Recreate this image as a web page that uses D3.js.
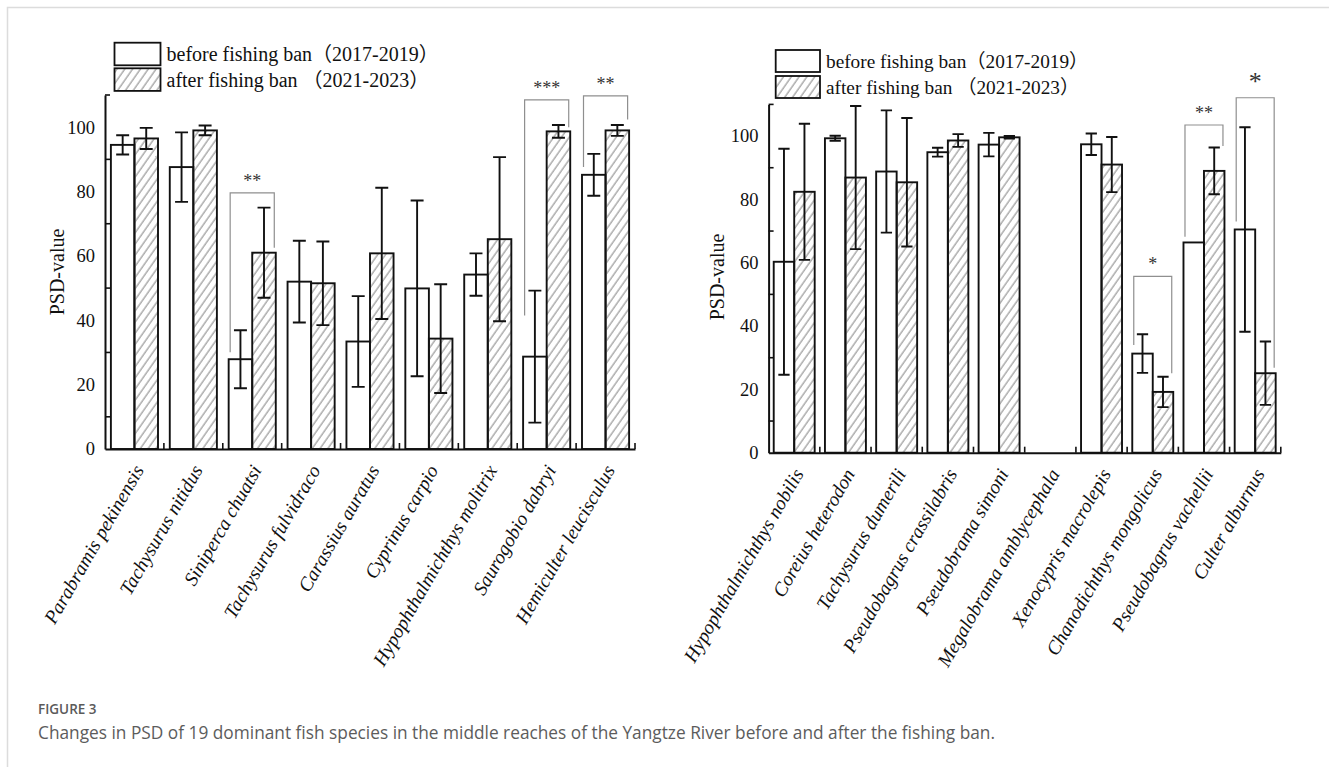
<!DOCTYPE html>
<html>
<head>
<meta charset="utf-8">
<script src="https://cdn.jsdelivr.net/npm/d3@7"></script>
<style>
  html, body { margin: 0; padding: 0; background: #fff; }
  svg { display: block; }
</style>
</head>
<body>
<svg id="fig" width="1329" height="767"></svg>
<script>
// ---- Panel A: species and PSD values (mean and error) ----
const leftSpecies = ["Parabramis pekinensis", "Tachysurus nitidus", "Siniperca chuatsi",
  "Tachysurus fulvidraco", "Carassius auratus", "Cyprinus carpio",
  "Hypophthalmichthys molitrix", "Saurogobio dabryi", "Hemiculter leucisculus"];
const leftBefore    = [94.5, 87.6, 27.9, 52.0, 33.4, 49.9, 54.2, 28.7, 85.2];
const leftBeforeErr = [3.0, 10.8, 9.0, 12.7, 14.1, 27.3, 6.6, 20.5, 6.5];
const leftAfter     = [96.5, 99.0, 61.0, 51.5, 60.8, 34.3, 65.2, 98.7, 99.0];
const leftAfterErr  = [3.3, 1.5, 14.0, 13.0, 20.4, 16.9, 25.5, 2.0, 1.7];
// significance brackets: species, mark, bracket top, left leg end, right leg end (PSD units)
const leftSig = [
  ["Siniperca chuatsi", "**", 79.6, 30.1, 62.5],
  ["Saurogobio dabryi", "***", 108.5, 41.5, 100.0],
  ["Hemiculter leucisculus", "**", 109.7, 87.6, 102.4]
];

// ---- Panel B ----
const rightSpecies = ["Hypophthalmichthys nobilis", "Coreius heterodon", "Tachysurus dumerili",
  "Pseudobagrus crassilabris", "Pseudobrama simoni", "Megalobrama amblycephala",
  "Xenocypris macrolepis", "Chanodichthys mongolicus", "Pseudobagrus vachellii", "Culter alburnus"];
const rightBefore    = [60.3, 99.3, 88.8, 94.9, 97.3, null, 97.4, 31.3, 66.4, 70.5];
const rightBeforeErr = [35.7, 0.8, 19.3, 1.4, 3.7, null, 3.4, 6.1, 0, 32.3];
const rightAfter     = [82.4, 86.9, 85.4, 98.6, 99.6, null, 91.0, 19.2, 89.0, 25.1];
const rightAfterErr  = [21.5, 22.6, 20.3, 2.0, 0.4, null, 8.7, 4.8, 7.4, 10.0];
const rightSig = [
  ["Chanodichthys mongolicus", "*", 55.7, 34.0, 25.1],
  ["Pseudobagrus vachellii", "**", 103.5, 68.2, 96.9],
  ["Culter alburnus", "*", 112.1, 73.0, 26.8]
];

const yTickLabels = [0, 20, 40, 60, 80, 100];
const yMinorTicks = [10, 30, 50, 70, 90, 110];
const legendLabels = ["before fishing ban（2017-2019）", "after fishing ban （2021-2023）"];

const SERIF = "'Liberation Serif', 'Times New Roman', 'Noto Sans CJK SC', serif";
const svg = d3.select("#fig");

// hatch pattern for the "after" series
const defs = svg.append("defs");
const pat = defs.append("pattern")
  .attr("id", "hatch")
  .attr("patternUnits", "userSpaceOnUse")
  .attr("width", 6.4).attr("height", 10)
  .attr("patternTransform", "rotate(35)");
pat.append("line")
  .attr("x1", 1).attr("y1", 0).attr("x2", 1).attr("y2", 10)
  .attr("stroke", "#6e6e6e").attr("stroke-width", 0.9);

// figure frame
svg.append("path")
  .attr("d", "M7.5,767 L7.5,7.5 L1329,7.5")
  .attr("fill", "none").attr("stroke", "#dcdcdc").attr("stroke-width", 1.5);

function drawPanel(cfg) {
  const { species, before, beforeErr, after, afterErr, sig, x0, x1, yBase, yTop, legend, ylab } = cfg;
  const g = svg.append("g");
  const x = d3.scaleBand().domain(species).range([x0, x1]).padding(0);
  const y = d3.scaleLinear().domain([0, 110]).range([yBase, yTop]);
  const bw = x.bandwidth() * 0.4;
  const cap = bw * 0.55;
  const cx = s => x(s) + x.bandwidth() / 2;

  const rows = species.map((s, i) => ({ s, b: before[i], be: beforeErr[i], a: after[i], ae: afterErr[i] }));

  // bars
  rows.filter(r => r.b != null).forEach(r => {
    g.append("rect").attr("x", cx(r.s) - bw).attr("y", y(r.b))
      .attr("width", bw).attr("height", y(0) - y(r.b))
      .attr("fill", "#fff").attr("stroke", "#111").attr("stroke-width", 1.9);
  });
  rows.filter(r => r.a != null).forEach(r => {
    g.append("rect").attr("x", cx(r.s)).attr("y", y(r.a))
      .attr("width", bw).attr("height", y(0) - y(r.a))
      .attr("fill", "url(#hatch)").attr("stroke", "#111").attr("stroke-width", 1.9);
  });

  // error bars
  function errBar(xc, v, e) {
    if (v == null || !e) return;
    const path = d3.path();
    path.moveTo(xc, y(v + e)); path.lineTo(xc, y(v - e));
    path.moveTo(xc - cap / 2, y(v + e)); path.lineTo(xc + cap / 2, y(v + e));
    path.moveTo(xc - cap / 2, y(v - e)); path.lineTo(xc + cap / 2, y(v - e));
    g.append("path").attr("d", path.toString()).attr("fill", "none")
      .attr("stroke", "#111").attr("stroke-width", 1.9);
  }
  rows.forEach(r => {
    errBar(cx(r.s) - bw / 2, r.b, r.be);
    errBar(cx(r.s) + bw / 2, r.a, r.ae);
  });

  // significance brackets
  sig.forEach(([s, mark, top, lEnd, rEnd]) => {
    const lx = cx(s) - bw + 1.5, rx = cx(s) + bw - 1.5;
    g.append("path")
      .attr("d", `M${lx},${y(lEnd)} L${lx},${y(top)} L${rx},${y(top)} L${rx},${y(rEnd)}`)
      .attr("fill", "none").attr("stroke", "#8f8f8f").attr("stroke-width", 1.2);
    const big = mark === "*" && top > 100;
    g.append("text")
      .attr("x", (lx + rx) / 2)
      .attr("y", y(top) - (big ? 8 : 6))
      .attr("text-anchor", "middle")
      .attr("font-family", SERIF)
      .attr("font-size", big ? 26 : 18)
      .attr("fill", "#333")
      .text(mark);
  });

  // y axis
  const yAxis = d3.axisLeft(y).tickValues(yTickLabels).tickSize(0).tickPadding(10);
  const ya = g.append("g").attr("transform", `translate(${x0},0)`).call(yAxis);
  ya.select(".domain").attr("stroke", "#111").attr("stroke-width", 2);
  ya.selectAll("text").attr("font-family", SERIF).attr("font-size", 18.5).attr("fill", "#111");
  yMinorTicks.forEach(v => {
    g.append("line").attr("x1", x0).attr("x2", x0 + 5).attr("y1", y(v)).attr("y2", y(v))
      .attr("stroke", "#111").attr("stroke-width", 1.6);
  });

  // x axis with rotated italic species names
  const xAxis = d3.axisBottom(x).tickSize(0).tickPadding(0);
  const xa = g.append("g").attr("transform", `translate(0,${yBase})`).call(xAxis);
  xa.select(".domain").attr("stroke", "#111").attr("stroke-width", 2);
  xa.selectAll("text")
    .attr("font-family", SERIF).attr("font-style", "italic").attr("font-size", 19.5).attr("fill", "#111")
    .attr("text-anchor", "end")
    .attr("x", 0).attr("y", 0).attr("dy", null)
    .attr("transform", "translate(10,21) rotate(-60)");
  species.forEach(s => {
    const bx = x(s) + x.bandwidth();
    g.append("line").attr("x1", bx).attr("x2", bx).attr("y1", yBase).attr("y2", yBase - 6)
      .attr("stroke", "#111").attr("stroke-width", 1.6);
  });

  // y label
  g.append("text")
    .attr("transform", `translate(${ylab[0]},${ylab[1]}) rotate(-90)`)
    .attr("text-anchor", "middle").attr("dominant-baseline", "central")
    .attr("font-family", SERIF).attr("font-size", 20).attr("fill", "#111")
    .text("PSD-value");

  // legend
  const [lx, ly, lw, lh, gap, fs] = legend;
  legendLabels.forEach((t, i) => {
    g.append("rect").attr("x", lx).attr("y", ly + i * gap).attr("width", lw).attr("height", lh)
      .attr("fill", i ? "url(#hatch)" : "#fff").attr("stroke", "#111").attr("stroke-width", 1.8);
    g.append("text").attr("x", lx + lw + 6).attr("y", ly + i * gap + lh / 2)
      .attr("dominant-baseline", "central")
      .attr("font-family", SERIF).attr("font-size", fs).attr("fill", "#111")
      .text(t);
  });
}

drawPanel({
  species: leftSpecies, before: leftBefore, beforeErr: leftBeforeErr,
  after: leftAfter, afterErr: leftAfterErr, sig: leftSig,
  x0: 105, x1: 635, yBase: 449, yTop: 95,
  legend: [114.5, 42.7, 46, 22.6, 25.6, 20],
  ylab: [57, 272]
});
drawPanel({
  species: rightSpecies, before: rightBefore, beforeErr: rightBeforeErr,
  after: rightAfter, afterErr: rightAfterErr, sig: rightSig,
  x0: 768.6, x1: 1280.8, yBase: 452.7, yTop: 104.4,
  legend: [775.7, 50, 44.3, 22, 26, 19.3],
  ylab: [717, 277]
});

// caption
svg.append("text").attr("x", 38).attr("y", 714)
  .attr("font-family", "'Open Sans', 'Noto Sans', sans-serif").attr("font-size", 13.5)
  .attr("font-weight", 600).attr("fill", "#5a5a5a").text("FIGURE 3");
svg.append("text").attr("x", 38).attr("y", 739)
  .attr("font-family", "'Open Sans', 'Noto Sans', sans-serif").attr("font-size", 17.3)
  .attr("fill", "#5c5c5c")
  .text("Changes in PSD of 19 dominant fish species in the middle reaches of the Yangtze River before and after the fishing ban.");
</script>
</body>
</html>
